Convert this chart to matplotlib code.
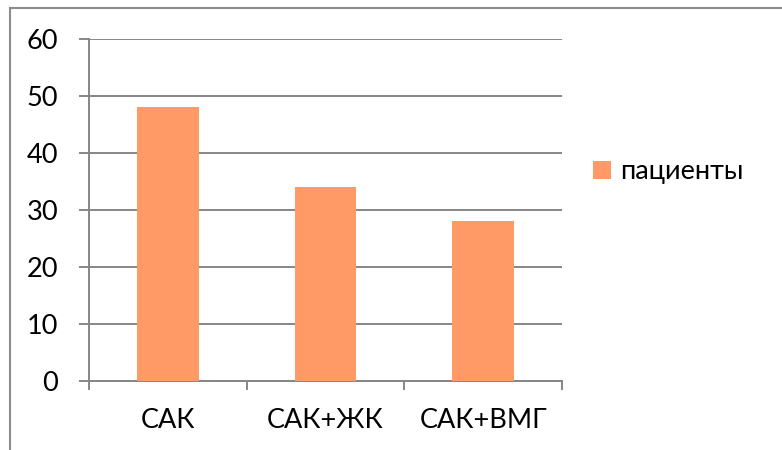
import matplotlib
matplotlib.use("Agg")
import matplotlib.pyplot as plt
from matplotlib.lines import Line2D
from matplotlib.patches import Patch

categories = ["САК", "САК+ЖК", "САК+ВМГ"]
patients = [48, 34, 28]
series_name = "пациенты"
y_ticks = [0, 10, 20, 30, 40, 50, 60]

W, H = 782, 450
fig = plt.figure(figsize=(W / 100, H / 100), dpi=100)
plt.rcParams["font.family"] = ["Lato", "DejaVu Sans"]

FS = 19.5
grid_col = "#868686"
bar_col = "#FF9966"
px = 72 / 100  # one pixel in points

ax = fig.add_axes([89 / W, (H - 381) / H, (562 - 89) / W, (381 - 39) / H])
x = list(range(len(categories)))
ax.bar(x, patients, width=0.39, color=bar_col, zorder=3)
ax.set_xlim(-0.5, len(categories) - 0.5)
ax.set_ylim(0, 60)
ax.set_yticks(y_ticks)
ax.set_yticklabels([str(v) for v in y_ticks], fontsize=FS)
ax.yaxis.grid(True, color=grid_col, linewidth=1.4, zorder=0)
ax.tick_params(axis="y", length=10 * px, width=1.4, color=grid_col, pad=21 * px)

# category boundary ticks below the axis, labels at category centers
ax.set_xticks([i - 0.5 for i in range(len(categories) + 1)])
ax.set_xticklabels([""] * (len(categories) + 1))
ax.tick_params(axis="x", length=9 * px, width=1.4, color=grid_col)
for i, c in enumerate(categories):
    ax.text(i, -0.115, c, transform=ax.get_xaxis_transform(), ha="center",
            va="center", fontsize=FS)

for s in ["top", "right"]:
    ax.spines[s].set_visible(False)
for s in ["left", "bottom"]:
    ax.spines[s].set_color(grid_col)
    ax.spines[s].set_linewidth(1.4)

handle = Patch(facecolor=bar_col, edgecolor="none")
fs_px = FS / px
fig.legend([handle], [series_name], loc="center left",
           bbox_to_anchor=(593 / W, 1 - 172 / H), frameon=False, fontsize=FS,
           borderpad=0, borderaxespad=0,
           handlelength=18 / fs_px, handleheight=17 / fs_px,
           handletextpad=9 / fs_px)

# outer chart frame (left and top edges)
fig.add_artist(Line2D([9.5 / W, 9.5 / W], [0, 1 - 7.5 / H], color="#8c8c8c",
                      linewidth=1.5, transform=fig.transFigure))
fig.add_artist(Line2D([9.5 / W, 1], [1 - 7.5 / H, 1 - 7.5 / H], color="#8c8c8c",
                      linewidth=1.5, transform=fig.transFigure))

fig.savefig("out.png", dpi=100)
